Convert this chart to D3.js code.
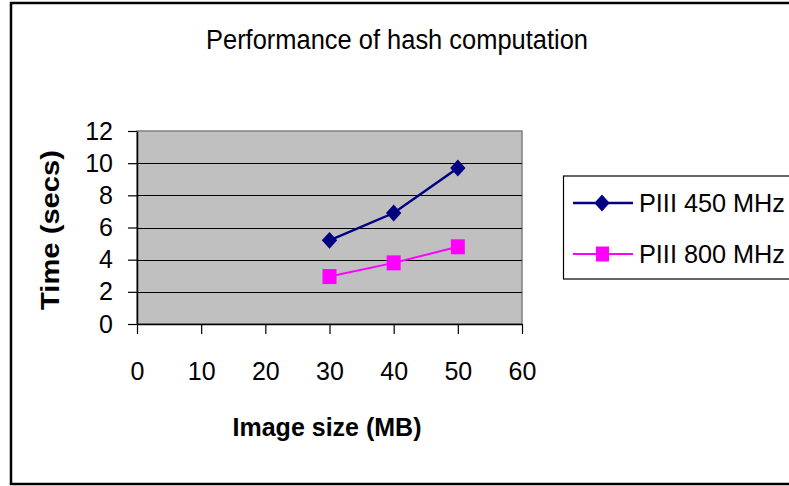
<!DOCTYPE html>
<html>
<head>
<meta charset="utf-8">
<script src="https://cdn.jsdelivr.net/npm/d3@7"></script>
<style>
  body { margin: 0; background: #fff; }
  svg { display: block; font-family: "Liberation Sans", Arial, sans-serif; }
</style>
</head>
<body>
<div id="chart-wrapper"></div>
<script>
width = 789
height = 486
let title = "Performance of hash computation"
let xTitle = "Image size (MB)"
let yTitle = "Time (secs)"
let sizes = [30, 40, 50]
let piii450 = [5.2, 6.9, 9.7]
let piii800 = [2.95, 3.8, 4.8]
let seriesNames = ["PIII 450 MHz", "PIII 800 MHz"]
let xTicks = [0, 10, 20, 30, 40, 50, 60]
let yTicks = [0, 2, 4, 6, 8, 10, 12]
let color = ["#000080", "#FF00FF"]

let plot = {left: 137, right: 522, top: 131, bottom: 324}

svg = d3
  .select("#chart-wrapper")
  .append("svg")
  .attr("width", width)
  .attr("height", height)

// outer frame (runs off the right edge like the original)
svg.append("rect")
  .attr("x", 11).attr("y", 3)
  .attr("width", 820).attr("height", 481)
  .attr("fill", "#fff")
  .attr("stroke", "#000")
  .attr("stroke-width", 2.5)

// scales
let x = d3.scaleLinear().domain([0, 60]).range([plot.left, plot.right])
let y = d3.scaleLinear().domain([0, 12]).range([plot.bottom, plot.top])

// plot area
svg.append("rect")
  .attr("x", plot.left).attr("y", plot.top)
  .attr("width", plot.right - plot.left).attr("height", plot.bottom - plot.top)
  .attr("fill", "#C0C0C0")
  .attr("stroke", "#808080")
  .attr("stroke-width", 1.5)

// gridlines
svg.append("g")
  .selectAll("line")
  .data(yTicks.filter(d => d > 0 && d < 12))
  .enter()
  .append("line")
  .attr("x1", plot.left).attr("x2", plot.right)
  .attr("y1", d => Math.round(y(d)) + 0.5).attr("y2", d => Math.round(y(d)) + 0.5)
  .attr("stroke", "#000")
  .attr("stroke-width", 1)

// X Axis
let xAxis = d3.axisBottom(x)
  .tickValues(xTicks)
  .tickSize(10)
  .tickSizeOuter(0)
  .tickPadding(28)
svg.append("g")
  .attr("class", "xAxis")
  .attr("transform", `translate(0, ${plot.bottom})`)
  .call(xAxis)

// Y Axis
let yAxis = d3.axisLeft(y)
  .tickValues(yTicks)
  .tickSize(9)
  .tickSizeOuter(0)
  .tickPadding(15)
svg.append("g")
  .attr("class", "yAxis")
  .attr("transform", `translate(${plot.left}, 0)`)
  .call(yAxis)

// Style axes
d3.selectAll(".xAxis text, .yAxis text")
  .attr("fill", "#000")
  .attr("font-size", 25)
  .attr("font-family", "'Liberation Sans', Arial, sans-serif")
d3.selectAll(".xAxis path, .yAxis path").attr("stroke", "#000").attr("stroke-width", 1.5)
d3.selectAll(".xAxis line, .yAxis line").attr("stroke", "#000").attr("stroke-width", 1.2)

// lines + markers
let line = d3.line()
  .x((d, i) => x(sizes[i]))
  .y(d => y(d))

let series = [piii450, piii800]
series.forEach((s, k) => {
  svg.append("path")
    .attr("d", line(s))
    .attr("fill", "none")
    .attr("stroke", color[k])
    .attr("stroke-width", k == 0 ? 2.5 : 2)
})

let diamond = d3.symbol().type(d3.symbolDiamond2).size(150)
svg.append("g")
  .selectAll("path")
  .data(piii450)
  .enter()
  .append("path")
  .attr("d", diamond)
  .attr("transform", (d, i) => `translate(${x(sizes[i])},${y(d)}) scale(1,1.1)`)
  .attr("fill", color[0])

svg.append("g")
  .selectAll("rect")
  .data(piii800)
  .enter()
  .append("rect")
  .attr("x", (d, i) => x(sizes[i]) - 7)
  .attr("y", d => y(d) - 7.5)
  .attr("width", 14)
  .attr("height", 15)
  .attr("fill", color[1])

// titles
svg.append("text")
  .attr("x", 397).attr("y", 49)
  .attr("text-anchor", "middle")
  .attr("font-size", 27)
  .attr("textLength", 382)
  .attr("lengthAdjust", "spacingAndGlyphs")
  .text(title)

svg.append("text")
  .attr("x", 327).attr("y", 436)
  .attr("text-anchor", "middle")
  .attr("font-size", 25)
  .attr("font-weight", "bold")
  .text(xTitle)

svg.append("text")
  .attr("transform", "translate(59, 230) rotate(-90)")
  .attr("text-anchor", "middle")
  .attr("font-size", 25)
  .attr("font-weight", "bold")
  .attr("textLength", 160)
  .attr("lengthAdjust", "spacingAndGlyphs")
  .text(yTitle)

// legend
let legend = svg.append("g")
legend.append("rect")
  .attr("x", 563.5).attr("y", 176)
  .attr("width", 300).attr("height", 103)
  .attr("fill", "#fff")
  .attr("stroke", "#000")
  .attr("stroke-width", 1.2)

let legendY = [203, 254]
seriesNames.forEach((name, k) => {
  legend.append("line")
    .attr("x1", 573).attr("x2", 633)
    .attr("y1", legendY[k]).attr("y2", legendY[k])
    .attr("stroke", color[k])
    .attr("stroke-width", k == 0 ? 2.5 : 2)
  if (k == 0) {
    legend.append("path")
      .attr("d", diamond)
      .attr("transform", `translate(602,${legendY[k]}) scale(1,1.1)`)
      .attr("fill", color[0])
  } else {
    legend.append("rect")
      .attr("x", 596).attr("y", legendY[k] - 7.5)
      .attr("width", 13).attr("height", 15)
      .attr("fill", color[1])
  }
  legend.append("text")
    .attr("x", 639).attr("y", legendY[k] + 9)
    .attr("font-size", 25)
    .attr("textLength", 146)
    .attr("lengthAdjust", "spacingAndGlyphs")
    .text(name)
})
</script>
</body>
</html>
